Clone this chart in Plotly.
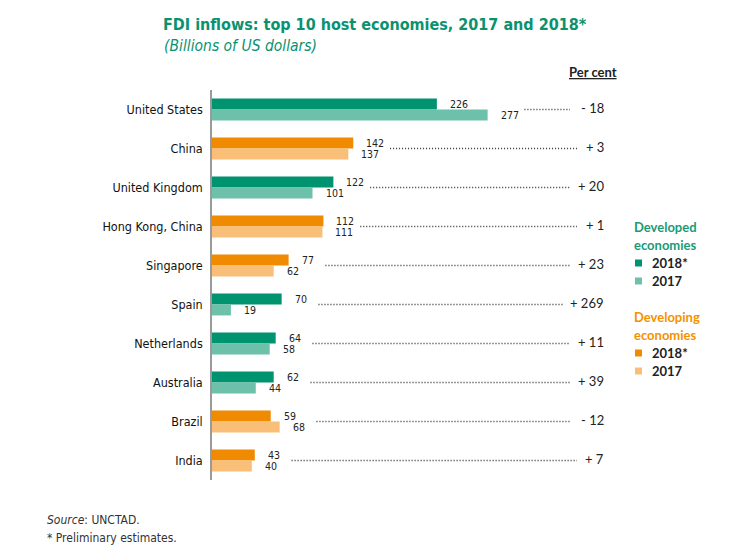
import plotly.graph_objects as go

# FDI inflows, billions of US dollars
countries = ['United States', 'China', 'United Kingdom', 'Hong Kong, China', 'Singapore',
             'Spain', 'Netherlands', 'Australia', 'Brazil', 'India']
fdi_2018 = [226, 142, 122, 112, 77, 70, 64, 62, 59, 43]
fdi_2017 = [277, 137, 101, 111, 62, 19, 58, 44, 68, 40]
pct_change = [-18, 3, 20, 1, 23, 269, 11, 39, -12, 7]
economy = ['Developed', 'Developing', 'Developed', 'Developing', 'Developing',
           'Developed', 'Developed', 'Developed', 'Developing', 'Developing']

COLORS = {
    'Developed': {'2018': '#00936F', '2017': '#6DC0AA', 'title': '#1A9B76'},
    'Developing': {'2018': '#F08A00', '2017': '#F9BE78', 'title': '#F39200'},
}
TITLE_COLOR = '#0A9270'
NARROW = 'DejaVu Sans Condensed, Liberation Sans Narrow, sans-serif'
SANS = 'Lato, Carlito, Open Sans, sans-serif'

W, H = 734, 560
ML, MR, MT, MB = 212, 124, 90, 80
PW, PH = W - ML - MR, H - MT - MB
XMAX = 400
BAR_W = 0.28


def px_x(px):
    return (px - ML) / PW


def px_y(py):
    return (H - MB - py) / PH


pos = list(range(len(countries)))

fig = go.Figure()

fig.add_trace(go.Bar(
    y=pos, x=fdi_2018, orientation='h', offset=-BAR_W, width=BAR_W,
    marker=dict(color=[COLORS[e]['2018'] for e in economy], line=dict(width=0)),
    hoverinfo='x', name='2018*', showlegend=False))
fig.add_trace(go.Bar(
    y=pos, x=fdi_2017, orientation='h', offset=0, width=BAR_W,
    marker=dict(color=[COLORS[e]['2017'] for e in economy], line=dict(width=0)),
    hoverinfo='x', name='2017', showlegend=False))

# dotted leaders from the value labels to the per cent column,
# stopping a little before the per cent text
lx, ly = [], []
for p, a, b, c in zip(pos, fdi_2018, fdi_2017, pct_change):
    end_px = 584 - 7 * len(str(abs(c)))
    lx += [max(a, b) + 37, px_x(end_px) * XMAX, None]
    ly += [p, p, None]
fig.add_trace(go.Scatter(x=lx, y=ly, mode='lines', hoverinfo='skip', showlegend=False,
                         line=dict(color='#333333', width=1.5, dash='1px,2px')))

ann = []
for p, a, b, c in zip(pos, fdi_2018, fdi_2017, pct_change):
    ann.append(dict(x=a, y=p - BAR_W / 2, xref='x', yref='y', text=str(a), showarrow=False,
                    xanchor='left', yanchor='middle', xshift=11,
                    font=dict(family=NARROW, size=10.5, color='#222222')))
    ann.append(dict(x=b, y=p + BAR_W / 2, xref='x', yref='y', text=str(b), showarrow=False,
                    xanchor='left', yanchor='middle', xshift=11,
                    font=dict(family=NARROW, size=10.5, color='#222222')))
    sign = '+' if c > 0 else '-'
    ann.append(dict(x=px_x(606), y=p, xref='paper', yref='y', text=f'{sign} {abs(c)}',
                    showarrow=False, xanchor='right', yanchor='middle', yshift=2,
                    font=dict(family=SANS, size=13, color='#222222')))


def label(px, py, text, size, color, family=SANS, anchor='left'):
    ann.append(dict(x=px_x(px), y=px_y(py), xref='paper', yref='paper', text=text,
                    showarrow=False, xanchor=anchor, yanchor='middle',
                    font=dict(family=family, size=size, color=color)))


label(619, 72, '<b><u>Per cent</u></b>', 13, '#222222', anchor='right')
label(162, 46, '<i>(Billions of US dollars)</i>', 15.5, TITLE_COLOR, family=NARROW)

# legend
shapes = []
for grp, y0 in (('Developed', 227), ('Developing', 317)):
    for k, word in enumerate((grp, 'economies')):
        label(632, y0 + k * 18, f'<b>{word}</b>', 13, COLORS[grp]['title'])
    for k, (yr, lab) in enumerate((('2018', '2018*'), ('2017', '2017'))):
        yc = y0 + 36 + k * 18
        shapes.append(dict(type='rect', xref='paper', yref='paper',
                           x0=px_x(635), x1=px_x(642), y0=px_y(yc + 3.5), y1=px_y(yc - 3.5),
                           fillcolor=COLORS[grp][yr], line=dict(width=0)))
        label(650, yc, f'<b>{lab}</b>', 13, '#222222')

# footnotes
label(45, 520, '<i>Source</i>: UNCTAD.', 12, '#333333', family=NARROW)
label(45, 538, '* Preliminary estimates.', 12, '#333333', family=NARROW)

fig.update_layout(
    width=W, height=H,
    margin=dict(l=ML, r=MR, t=MT, b=MB),
    paper_bgcolor='white', plot_bgcolor='white',
    barmode='overlay',
    title=dict(text='<b>FDI inflows: top 10 host economies, 2017 and 2018*</b>',
               x=163 / W, xanchor='left', y=1 - 24 / H, yanchor='middle',
               font=dict(family=NARROW, size=16, color=TITLE_COLOR)),
    xaxis=dict(range=[0, XMAX], visible=False, fixedrange=True),
    yaxis=dict(range=[len(countries) - 0.5, -0.5], tickvals=pos, ticktext=countries,
               showline=True, linecolor='#9A9A9A', linewidth=1.5, showgrid=False, zeroline=False,
               ticks='', ticklabelstandoff=5, fixedrange=True,
               tickfont=dict(family=NARROW, size=12.5, color='#111111')),
    annotations=ann,
    shapes=shapes,
    showlegend=False,
)

# page body has a default 8px margin; drop it so the figure sits at the top-left corner
fig.write_html('out.html', config={'displayModeBar': False},
               post_script="document.body.style.margin='0px';")
